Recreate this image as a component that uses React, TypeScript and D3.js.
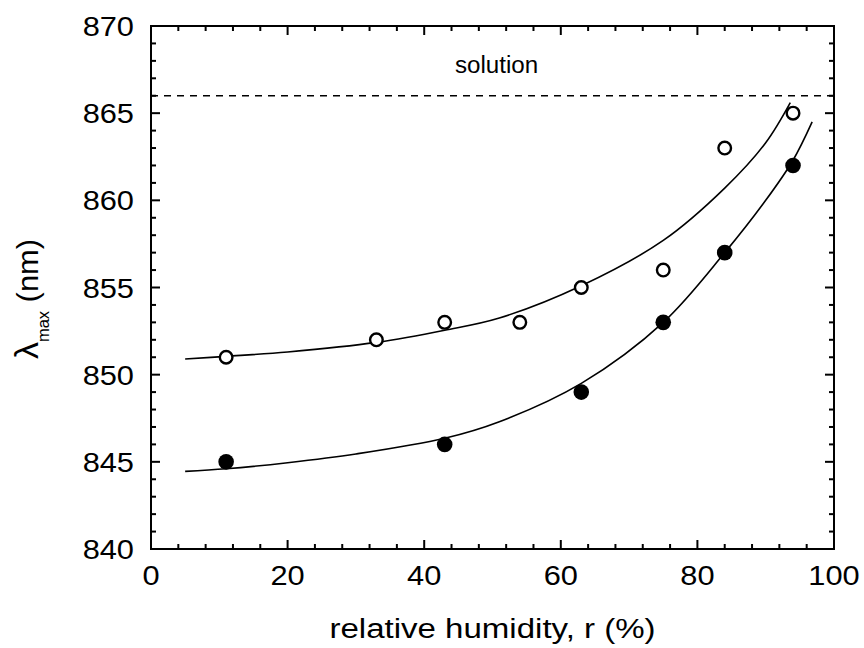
import React from "react";
import * as d3 from "d3";

const W = 864;
const H = 648;
const M = { left: 151, right: 834, top: 26, bottom: 549 };

const xMajorTicks = [0, 20, 40, 60, 80, 100];
const yMajorTicks = [840, 845, 850, 855, 860, 865, 870];

// Measured data: open circles
const openX = [11, 33, 43, 54, 63, 75, 84, 94];
const openY = [851, 852, 853, 853, 855, 856, 863, 865];
// Measured data: filled circles
const filledX = [11, 43, 63, 75, 84, 94];
const filledY = [845, 846, 849, 853, 857, 862];

// Fit curves
const openFitX = [5, 11, 20, 33, 43, 51, 63, 75, 84, 90, 93.6];
const openFitY = [850.9, 851.05, 851.3, 851.85, 852.55, 853.25, 855.1, 857.7, 860.7, 863.3, 865.6];
const filledFitX = [5, 11, 20, 30, 43, 51, 63, 75, 84, 90, 94, 96.8];
const filledFitY = [844.45, 844.6, 844.95, 845.45, 846.35, 847.3, 849.5, 853.0, 857.0, 860.0, 862.3, 864.5];

const solutionLevel = 866;

export default function App() {
  const x = d3.scaleLinear().domain([0, 100]).range([M.left, M.right]);
  const y = d3.scaleLinear().domain([840, 870]).range([M.bottom, M.top]);

  const xMinor = d3.range(0, 100.001, 4).filter((v) => !xMajorTicks.includes(v));
  const yMinor = d3.range(840, 870.001, 1).filter((v) => !yMajorTicks.includes(v));

  const line = d3
    .line<[number, number]>()
    .x((d) => x(d[0]))
    .y((d) => y(d[1]))
    .curve(d3.curveCatmullRom.alpha(0.5));

  const openFit = openFitX.map((v, i) => [v, openFitY[i]] as [number, number]);
  const filledFit = filledFitX.map((v, i) => [v, filledFitY[i]] as [number, number]);

  const font = "Liberation Sans, Arial, sans-serif";
  const majorLen = 9;
  const minorLen = 5;
  const tickFont = 28;
  const sx = 1.1;

  return (
    <svg width={W} height={H} style={{ position: "absolute", left: 0, top: 0, background: "#fff" }}>
      <rect x={0} y={0} width={W} height={H} fill="#fff" />
      {/* dashed solution line */}
      <line
        x1={x(0)}
        x2={x(100)}
        y1={y(solutionLevel)}
        y2={y(solutionLevel)}
        stroke="#000"
        strokeWidth={1.5}
        strokeDasharray="7,6"
      />
      <text
        transform={`translate(${(M.left + M.right) / 2 + 4}, 73) scale(1.05,1)`}
        fontFamily={font}
        fontSize={23}
        textAnchor="middle"
        fill="#000"
      >
        solution
      </text>

      {/* fit curves */}
      <path d={line(openFit) || ""} fill="none" stroke="#000" strokeWidth={1.6} />
      <path d={line(filledFit) || ""} fill="none" stroke="#000" strokeWidth={1.6} />

      {/* points */}
      {openX.map((v, i) => (
        <circle key={"o" + i} cx={x(v)} cy={y(openY[i])} r={6.3} fill="#fff" stroke="#000" strokeWidth={2.4} />
      ))}
      {filledX.map((v, i) => (
        <circle key={"f" + i} cx={x(v)} cy={y(filledY[i])} r={7.8} fill="#000" />
      ))}

      {/* frame */}
      <rect
        x={M.left}
        y={M.top}
        width={M.right - M.left}
        height={M.bottom - M.top}
        fill="none"
        stroke="#000"
        strokeWidth={2}
      />

      {/* x ticks bottom & top */}
      {xMajorTicks.map((v) => (
        <g key={"xm" + v}>
          <line x1={x(v)} x2={x(v)} y1={M.bottom} y2={M.bottom - majorLen} stroke="#000" strokeWidth={2} />
          <line x1={x(v)} x2={x(v)} y1={M.top} y2={M.top + majorLen} stroke="#000" strokeWidth={2} />
          <text
            transform={`translate(${x(v)}, 585) scale(${sx},1)`}
            fontFamily={font}
            fontSize={tickFont}
            textAnchor="middle"
            fill="#000"
          >
            {v}
          </text>
        </g>
      ))}
      {xMinor.map((v) => (
        <g key={"xn" + v}>
          <line x1={x(v)} x2={x(v)} y1={M.bottom} y2={M.bottom - minorLen} stroke="#000" strokeWidth={2} />
          <line x1={x(v)} x2={x(v)} y1={M.top} y2={M.top + minorLen} stroke="#000" strokeWidth={2} />
        </g>
      ))}

      {/* y ticks left & right */}
      {yMajorTicks.map((v) => (
        <g key={"ym" + v}>
          <line x1={M.left} x2={M.left + majorLen} y1={y(v)} y2={y(v)} stroke="#000" strokeWidth={2} />
          <line x1={M.right} x2={M.right - majorLen} y1={y(v)} y2={y(v)} stroke="#000" strokeWidth={2} />
          <text
            transform={`translate(134, ${y(v) + 10}) scale(${sx},1)`}
            fontFamily={font}
            fontSize={tickFont}
            textAnchor="end"
            fill="#000"
          >
            {v}
          </text>
        </g>
      ))}
      {yMinor.map((v) => (
        <g key={"yn" + v}>
          <line x1={M.left} x2={M.left + minorLen} y1={y(v)} y2={y(v)} stroke="#000" strokeWidth={2} />
          <line x1={M.right} x2={M.right - minorLen} y1={y(v)} y2={y(v)} stroke="#000" strokeWidth={2} />
        </g>
      ))}

      {/* axis titles */}
      <text
        transform={`translate(${(M.left + M.right) / 2}, 638) scale(1.18,1)`}
        fontFamily={font}
        fontSize={28}
        textAnchor="middle"
        fill="#000"
      >
        relative humidity, r (%)
      </text>
      <text
        transform={`translate(38, 299) rotate(-90) scale(1.03,1)`}
        fontFamily={font}
        fontSize={30}
        textAnchor="middle"
        fill="#000"
      >
        <tspan fontSize={33}>λ</tspan>
        <tspan fontSize={16} dy={11}>max</tspan>
        <tspan dy={-11}> (nm)</tspan>
      </text>
    </svg>
  );
}
